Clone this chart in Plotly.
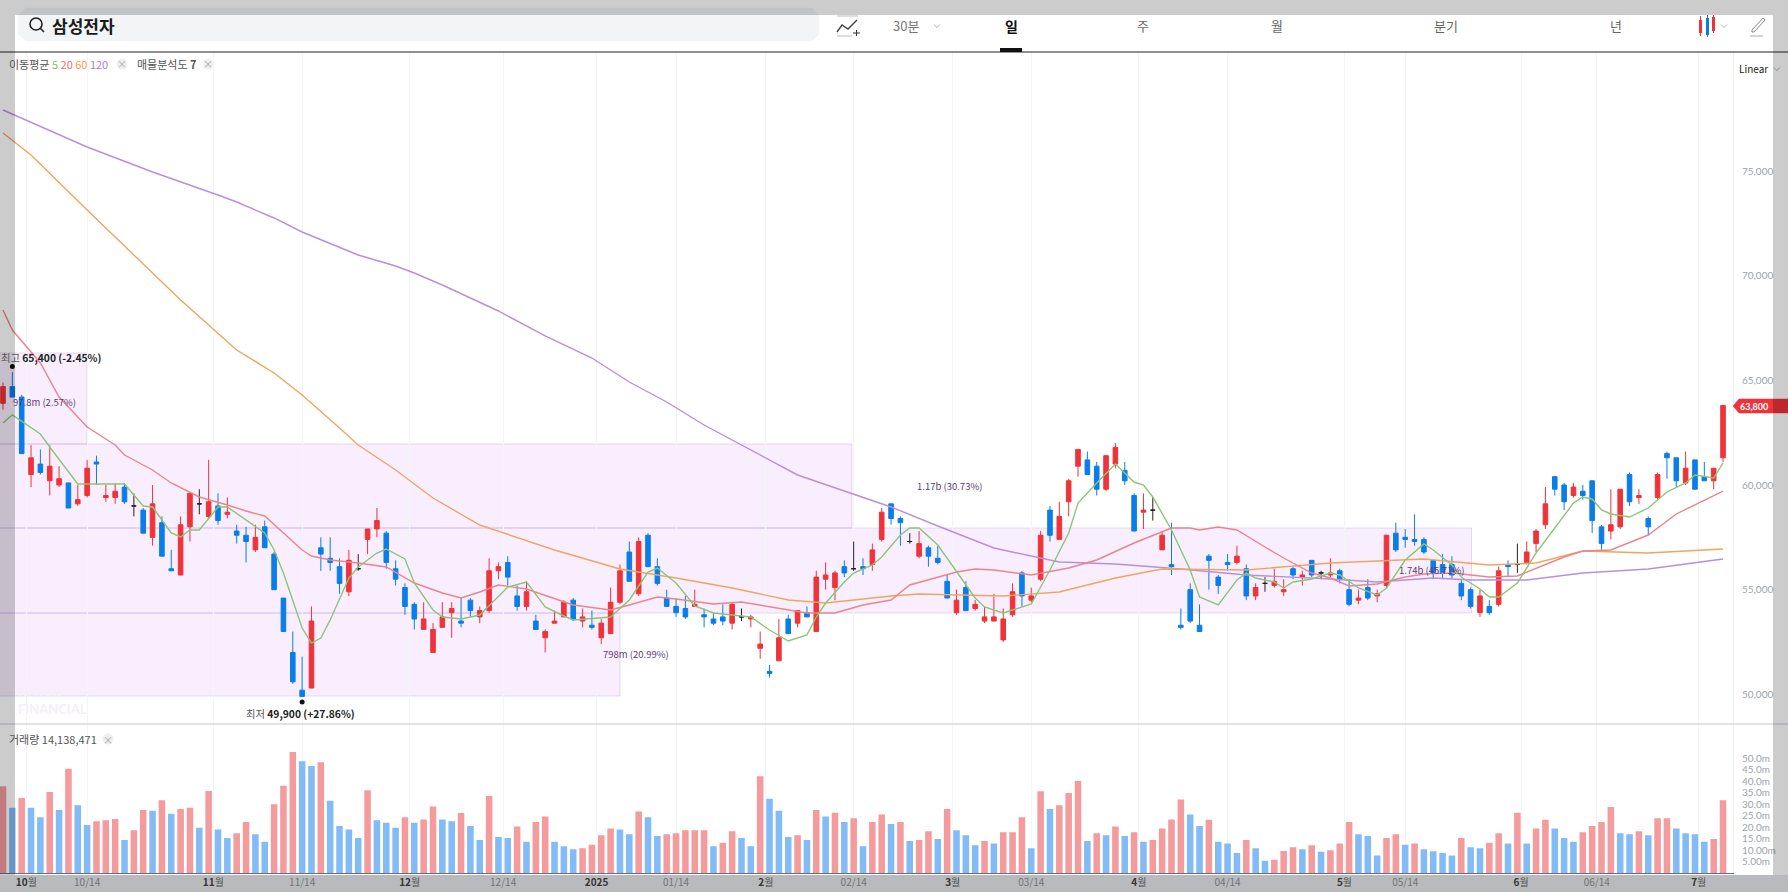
import plotly.graph_objects as go

W, H = 1788, 892

opens = [
    63900,64700,64200,60500,61000,60200,60000,60100,59100,59500,
    61100,59400,59400,59900,59000,58800,57500,58200,56000,55700,
    58000,59100,58500,59000,58600,57800,57600,56900,58000,56700,
    54600,52000,50200,50300,57000,56500,56100,54900,56000,57400,
    57900,57700,56000,55100,54300,53100,52000,53200,53900,53500,
    54500,53700,54000,55900,56300,54700,54200,53500,52700,53400,
    53700,54500,53500,53300,52700,52900,54400,56800,54800,57600,
    56100,54600,54200,54100,54200,53800,53600,53700,53400,53700,
    53600,52200,51100,51600,53600,53400,53900,53000,55500,55100,
    56100,56000,56100,56200,57400,59100,58400,57300,56600,57000,
    56500,55400,53900,55100,54100,53500,53500,52600,53800,55800,
    54500,55500,58800,57400,59200,60900,61200,60900,59800,61000,
    60700,59500,58700,58800,56900,56200,53300,55000,53300,56600,
    55600,56300,56300,56000,54700,55300,55200,54900,56000,55600,
    56400,55800,55700,55900,55000,54500,55100,54700,55200,57700,
    57500,57400,57400,56400,56200,56200,55300,55000,53900,54200,
    54300,56200,56200,56300,57200,58100,60400,60000,59500,59700,
    60200,58000,57800,58000,60500,59400,58400,59400,61500,61300,
    60100,61200,60400,60200,61300]
highs = [
    64900,65400,64300,61900,61700,61900,60900,60100,60000,61200,
    61400,60000,60100,60100,59600,58900,60000,58500,56900,58500,
    59600,59800,61200,59600,59400,58100,58000,58100,58300,56800,
    54600,53000,51800,54200,57500,57500,56500,56900,56700,57900,
    58900,57800,56400,55300,54400,54400,53400,54400,54400,54600,
    54600,54200,56500,56300,56600,55200,55400,53800,53100,54000,
    54500,54600,54100,54000,53600,55100,56200,57300,57500,57700,
    56500,55000,54600,54700,55000,54100,53900,54300,54400,54100,
    53800,53000,51400,53600,53800,54000,54200,55900,56300,55900,
    56400,57300,56500,57200,58900,59100,58500,57700,57800,57100,
    57100,55700,55000,55400,54500,54200,54800,54100,55300,55900,
    55100,57800,59000,59200,60300,61700,61600,61100,61400,62000,
    61100,59600,59600,59400,57800,58200,54100,55300,54300,56700,
    55700,56700,57100,56200,55300,55600,56000,55500,56100,55900,
    56400,55900,56500,56000,55500,55000,55500,55000,57600,58200,
    57900,58600,57500,56400,56700,56600,55500,55100,55000,54500,
    56100,56400,57200,57300,57900,59900,60400,60100,60100,60000,
    60200,58100,59800,59800,60600,59800,58500,60600,61600,61300,
    61600,61200,61100,60800,63800]
lows = [
    63600,64200,61500,59900,60500,59500,59900,58900,59000,59400,
    60000,59200,59100,59100,58500,57700,57100,56600,55900,55700,
    57300,58600,58400,58100,58400,57200,56300,56800,57000,55000,
    53000,50500,49900,50300,55900,55900,54800,54700,55900,56700,
    57500,56000,55200,53800,53100,53100,52000,53200,52700,53200,
    53700,53400,53900,55500,55200,54000,54000,53100,52000,53400,
    53700,53500,53200,53100,52400,52900,54300,55400,54700,56100,
    55200,54200,53700,53600,54200,53200,53300,53300,53100,53500,
    53200,51700,50800,51600,52900,53200,53700,53000,55000,54500,
    55600,55900,55700,55900,57300,58100,57100,57200,56500,56100,
    56200,54600,53800,54000,54000,53400,53500,52500,53700,54200,
    54400,55400,57300,57400,58500,60400,60500,59500,59700,60800,
    60000,57800,57900,58300,56900,55700,53100,53400,53000,55000,
    54800,55900,56200,54500,54500,54900,55100,54700,55500,55200,
    55600,55500,55600,55300,54200,54300,54500,54400,55100,56800,
    57000,57100,56700,55500,55500,55500,54500,54100,53700,53800,
    54200,55600,55800,56200,56800,57900,59500,58800,59400,59300,
    57700,56900,57400,57900,59000,59100,57600,59300,60300,59900,
    60000,59800,60200,59800,61100]
closes = [
    64700,64200,61500,61300,60600,60900,60300,58900,59300,60800,
    61000,59500,59700,59200,59000,57700,59100,56600,55900,58100,
    59600,59100,59200,58300,58700,57600,57300,57500,57000,55000,
    53000,50600,49900,53500,56700,56300,55300,56400,56000,57900,
    58300,56300,55500,54200,53600,53600,53100,53700,54100,53400,
    54000,54000,55900,56100,55600,54200,54900,53100,53000,53500,
    54400,53600,53700,53200,53400,54400,55900,55400,57300,56100,
    55300,54200,53900,53700,54300,53700,53400,53500,54300,53700,
    53700,52400,51000,52700,52900,54000,53700,55600,55700,55800,
    55800,56000,56000,56900,58700,58400,58200,57300,57200,56600,
    56300,54600,54500,54000,54300,53700,53700,53600,54900,54700,
    54700,57600,57600,58500,60200,61700,60500,59800,61400,61800,
    60200,57800,58800,58800,57600,56100,53200,53500,53000,56400,
    55200,56200,56600,54700,55100,55300,55400,55000,55700,55700,
    55700,55800,55800,55500,54300,54600,54600,54800,57600,56900,
    57400,57300,56800,55800,55800,55700,54700,54200,54700,53900,
    55900,56100,56200,56800,57800,59100,59800,59200,59900,59500,
    58300,57200,58100,59800,59200,59500,58000,60500,61300,60200,
    60800,59800,60200,60800,63800]

volumes = [
    37.8,28.4,32.7,28.4,24.3,35.3,27.5,45.4,29.5,21.0,
    22.6,23.0,23.6,14.5,18.7,27.5,27.1,31.7,25.9,27.9,
    28.4,19.8,35.7,19.0,15.3,17.4,22.3,16.9,13.7,30.0,
    38.0,52.7,48.6,46.6,48.2,31.5,20.5,19.0,15.3,36.0,
    23.0,21.9,19.8,24.3,21.9,23.4,29.0,23.4,22.6,26.2,
    20.5,14.5,33.6,15.8,15.3,20.3,13.7,22.3,24.7,13.7,
    11.7,10.4,10.9,12.4,16.5,19.4,19.0,16.9,26.8,24.3,
    16.2,16.9,17.4,18.7,18.7,18.7,11.7,13.3,18.2,15.3,
    11.7,42.1,32.4,27.1,15.8,16.5,14.5,27.5,24.7,26.3,
    22.3,23.9,11.7,22.3,25.5,21.4,22.3,14.0,14.5,18.2,
    14.9,27.9,18.7,16.5,12.2,14.0,12.9,17.8,17.8,24.3,
    10.9,35.6,27.9,29.5,34.9,40.1,14.0,17.4,16.5,20.3,
    16.2,17.8,13.7,14.5,19.4,23.4,32.0,25.5,20.5,23.2,
    13.7,12.9,8.8,14.5,10.9,5.5,5.9,9.7,11.3,10.4,
    12.2,9.3,10.0,12.9,22.3,16.9,16.2,7.7,15.3,16.9,
    12.4,12.9,10.4,9.6,8.8,7.7,15.3,11.3,10.9,13.3,
    17.4,12.9,26.3,12.9,19.4,23.2,19.4,15.3,13.7,17.8,
    20.5,22.3,28.8,17.4,16.9,18.2,16.5,23.9,23.9,19.4,
    17.4,16.9,13.7,14.9,31.7]
vol_up = [
    1,0,1,0,0,1,0,1,0,0,
    1,1,1,0,1,1,0,1,0,1,
    1,0,1,0,0,1,1,0,0,1,
    1,1,0,0,1,0,0,0,0,1,
    0,0,0,1,0,1,1,0,0,1,
    0,0,1,0,0,1,0,1,1,0,
    0,0,1,1,1,1,0,0,1,0,
    0,1,1,1,1,1,0,1,1,0,
    0,1,0,0,0,1,0,1,0,1,
    0,1,0,1,1,0,1,0,1,1,
    0,1,0,0,0,1,0,1,1,1,
    0,1,0,1,1,1,0,1,0,1,
    0,1,0,1,1,1,1,0,0,1,
    0,0,0,1,0,0,1,1,1,0,
    1,0,1,1,1,0,0,0,1,1,
    0,1,0,0,0,0,1,0,0,1,
    1,0,1,0,1,1,0,0,0,1,
    1,1,1,0,0,1,0,1,1,0,
    0,0,0,1,1]

ma5_idx = [0,1,4,5,8,10,12,13,15,16,18,19,20,21,23,24,28,29,30,32,33,34,35,37,38,40,41,43,44,46,47,49,51,54,56,58,60,61,65,67,69,70,72,74,76,78,80,82,84,86,87,88,90,91,93,94,96,97,98,100,102,104,105,107,110,112,114,115,117,119,121,122,123,125,127,128,130,132,133,134,136,137,138,140,142,143,145,147,148,150,152,153,155,156,158,159,160,162,164,166,168,169,170,171,172,174,176,178,180,181,183,184]
ma5 = [62962,63344,62436,61815,60048,60048,60048,60048,58997,58949,57707,57516,57850,57850,58949,58949,57707,56895,55796,53169,52452,52691,53551,55557,56083,56752,56943,56465,55319,54029,53694,53599,53790,55127,55366,54172,53742,53551,53694,54506,55844,56035,55319,54220,53885,53790,53694,53073,52548,52834,53694,54363,55366,55796,56178,56561,57611,57946,57946,57134,55844,54602,54172,53885,54315,55940,57707,59140,60096,61003,60143,60000,59427,57850,55940,54650,54268,55462,55796,55557,55366,55080,55366,55510,55796,55701,55080,54745,55080,56417,57182,56895,56178,55605,55032,54650,54650,55319,56752,57946,59140,59427,59331,58806,58615,58471,58901,59666,60096,60478,60334,61051]

ma20_idx = [0,1,4,6,9,12,13,16,18,21,24,26,28,30,32,33,35,38,41,44,47,49,51,53,56,61,65,67,70,72,76,79,82,86,89,92,95,97,102,104,106,110,114,117,121,125,127,128,130,132,135,137,140,142,144,147,150,152,155,159,162,167,169,172,176,179,184]
ma20 = [68360,67404,65828,64204,62771,61911,61433,60717,60096,59427,59045,58758,58519,57707,56895,56608,56417,56274,56083,55319,54841,54602,54889,55223,55032,54268,54029,54268,54650,54554,54315,54411,54172,53885,53885,54268,54506,55223,55844,55987,55940,55701,56035,56417,57229,57946,57946,57850,57994,57850,57038,56513,55796,55557,55175,55271,55605,55748,55796,55605,55653,56561,56847,56895,57611,58615,59713]

ma60_idx = [0,3,9,19,22,25,29,32,36,38,42,46,51,59,66,72,78,84,88,95,98,107,113,119,124,133,142,152,159,164,169,176,184]
ma60 = [76815,75764,73137,68837,67643,66449,65350,64299,62723,61911,60717,59379,58089,56895,55987,55557,55080,54506,54363,54698,54793,54698,54889,55557,55987,55940,56274,56465,56178,56274,56847,56752,56943]

ma120_idx = [0,9,16,21,23,25,29,32,38,42,44,47,53,58,63,67,71,75,77,85,95,100,106,113,119,126,133,142,147,153,157,163,169,176,184]
ma120 = [77914,76146,74952,74188,73853,73519,72755,72086,70987,70462,70127,69554,68312,67118,66067,64920,63965,62866,62389,60478,58949,58041,56990,56322,56226,55987,55701,55510,55366,55557,55462,55462,55796,55987,56465]

price_ticks = [50000,55000,60000,65000,70000,75000]
vol_ticks = [5,10,15,20,25,30,35,40,45,50]
vol_tick_labels = ["5.00m","10.00m","15.0m","20.0m","25.0m","30.0m","35.0m","40.0m","45.0m","50.0m"]

date_pos = [2.5,9,22.5,32,43.5,53.5,63.5,72,81.6,91,101.6,110,121.5,131,143.5,150,162.4,170.5,181.4]
date_labels = ["10월","10/14","11월","11/14","12월","12/14","2025","01/14","2월","02/14","3월","03/14","4월","04/14","5월","05/14","6월","06/14","7월"]

# price zones of the volume profile: low, high, length in candles, label
zone_low = [49920,53885,57946,61960]
zone_high = [53885,57946,61960,66306]
zone_len = [66,157.1,90.8,9]

RED, BLUE = "#ee3339", "#0a7de8"
FONT = "Noto Sans CJK KR"


def px(x):
    return x / W


def py(y):
    return 1 - y / H


def label(x, y, text, size=11, color="#444", anchor="left", family=FONT):
    if anchor == "left":
        x -= 2
    return dict(xref="paper", yref="paper", x=px(x), y=py(y), text=text, showarrow=False,
                xanchor=anchor, yanchor="middle", align=anchor,
                font=dict(size=size, color=color, family=family))


def box(x0, y0, x1, y1, fill, kind="rect", line=None, layer="above"):
    return dict(type=kind, xref="paper", yref="paper", x0=px(x0), x1=px(x1), y0=py(y0), y1=py(y1),
                fillcolor=fill, line=line or dict(width=0), layer=layer)


def stroke(points, color, width=1.2, close=False, fill=None):
    path = "M" + " L".join(f"{px(a):.5f},{py(b):.5f}" for a, b in points) + (" Z" if close else "")
    return dict(type="path", xref="paper", yref="paper", path=path, layer="above",
                fillcolor=fill if fill else "rgba(0,0,0,0)",
                line=dict(color=color, width=width))


def chevron(cx, cy, color="#aaa"):
    return stroke([(cx - 3, cy - 1.5), (cx, cy + 1.5), (cx + 3, cy - 1.5)], color, 0.9)


idx = list(range(len(closes)))
solid = [i for i in idx if opens[i] != closes[i]]
doji = [i for i in idx if opens[i] == closes[i]]

fig = go.Figure()

fig.add_trace(go.Candlestick(
    x=solid, open=[opens[i] for i in solid], high=[highs[i] for i in solid],
    low=[lows[i] for i in solid], close=[closes[i] for i in solid],
    increasing=dict(line=dict(color=RED, width=1), fillcolor=RED),
    decreasing=dict(line=dict(color=BLUE, width=1), fillcolor=BLUE),
    xaxis="x", yaxis="y", showlegend=False))
fig.add_trace(go.Candlestick(
    x=doji, open=[opens[i] for i in doji], high=[highs[i] for i in doji],
    low=[lows[i] for i in doji], close=[closes[i] for i in doji],
    increasing=dict(line=dict(color="#222", width=1), fillcolor="#222"),
    decreasing=dict(line=dict(color="#222", width=1), fillcolor="#222"),
    xaxis="x", yaxis="y", showlegend=False))

for xs, ys, col in [(ma120_idx, ma120, "#b88fdd"), (ma60_idx, ma60, "#f0a55f"),
                    (ma20_idx, ma20, "#ea858b"), (ma5_idx, ma5, "#8cc576")]:
    fig.add_trace(go.Scatter(x=xs, y=ys, mode="lines", line=dict(color=col, width=1.4),
                             xaxis="x", yaxis="y", showlegend=False, hoverinfo="skip"))

fig.add_trace(go.Bar(x=idx, y=volumes, xaxis="x2", yaxis="y2", showlegend=False,
                     marker=dict(color=["#f49b9d" if u else "#82bbf6" for u in vol_up], line=dict(width=0))))

shapes = []
for lo, hi, n in zip(zone_low, zone_high, zone_len):
    shapes.append(dict(type="rect", xref="x", yref="y", x0=-1, x1=n, y0=lo, y1=hi, layer="below",
                       fillcolor="rgba(226,170,248,0.2)", line=dict(color="rgba(190,150,225,0.35)", width=1)))

# dots over the high and low
shapes.append(dict(type="circle", xref="x", yref="y", xsizemode="pixel", ysizemode="pixel",
                   xanchor=1, yanchor=max(highs), x0=-2.5, x1=2.5, y0=3, y1=8,
                   fillcolor="#111", line=dict(width=0)))
shapes.append(dict(type="circle", xref="x", yref="y", xsizemode="pixel", ysizemode="pixel",
                   xanchor=32, yanchor=min(lows), x0=-2.5, x1=2.5, y0=-8, y1=-3,
                   fillcolor="#111", line=dict(width=0)))

# panel frame
shapes.append(stroke([(0, 724), (W, 724)], "#d9d9e3", 1.5))
shapes.append(stroke([(0, 52), (W, 52)], "#6a6a6a", 1.6))
shapes.append(box(0, 875, W, H, "#e6e9ed", layer="below"))

# toolbar
shapes.append(stroke([(26, 8), (812, 8), (819, 15), (819, 34), (812, 41), (26, 41), (18, 34), (18, 15)],
                     "#f2f4f6", 0.5, True, "#f2f4f6"))
shapes.append(box(30, 18, 42, 30, "rgba(0,0,0,0)", "circle", dict(color="#222", width=1.6)))
shapes.append(stroke([(40, 28), (44, 32)], "#222", 1.6))
shapes.append(box(1000, 48, 1022, 52, "#111"))
shapes.append(stroke([(837, 32), (842, 25), (848, 29), (857, 20)], "#444", 1.4))
shapes.append(stroke([(837, 16), (858, 16)], "#bbb", 1))
shapes.append(stroke([(837, 36), (852, 36)], "#bbb", 1))
shapes.append(stroke([(853, 33), (860, 33)], "#333", 1))
shapes.append(stroke([(856.5, 30), (856.5, 36)], "#333", 1))
for a, b, c, d in [(1699, 20, 1702, 33), (1706, 18, 1709, 35), (1712, 17, 1715, 31)]:
    shapes.append(box(a, b, c, d, RED if a != 1706 else BLUE))
shapes.append(stroke([(1700.5, 16), (1700.5, 36)], RED, 1))
shapes.append(stroke([(1707.5, 15), (1707.5, 37)], BLUE, 1))
shapes.append(stroke([(1713.5, 15), (1713.5, 33)], RED, 1))
shapes.append(stroke([(1752, 30), (1763, 18), (1765, 20), (1754, 32), (1752, 32)], "#888", 1, True))
shapes.append(stroke([(1750, 36), (1763, 36)], "#aaa", 1))
shapes += [chevron(937, 26), chevron(1724, 26), chevron(1777, 69)]

# chips behind the small x marks
for cx, cy in [(122, 64), (208, 64), (108, 739)]:
    shapes.append(box(cx - 5.5, cy - 5.5, cx + 5.5, cy + 5.5, "#efefef", "circle"))

# current price tag
shapes.append(stroke([(1733, 406), (1739, 399), (W, 399), (W, 413), (1739, 413)], RED, 0.5, True, RED))

# dimmed frame of the capture
dim = "rgba(0,0,0,0.2)"
shapes += [box(0, 0, W, 15, dim), box(0, 875, W, H, dim), box(0, 15, 15, 875, dim), box(1773, 15, W, 875, dim)]

TXT = "#5a3d78"
annotations = [
    label(52, 25, "<b>삼성전자</b>", 17, "#1a1a1a"),
    label(906, 26, "30분", 13, "#777", "center"),
    label(1011, 26, "<b>일</b>", 14, "#111", "center"),
    label(1143, 26, "주", 13, "#666", "center"),
    label(1277, 26, "월", 13, "#666", "center"),
    label(1446, 26, "분기", 13, "#666", "center"),
    label(1616, 26, "년", 13, "#666", "center"),
    label(1753, 68, "Linear", 10, "#222", "center"),
    label(9, 64, "이동평균 <span style='color:#7cc060'>5</span> <span style='color:#ee6a70'>20</span> "
                 "<span style='color:#f0a050'>60</span> <span style='color:#a780d8'>120</span>", 11, "#555"),
    label(122, 64, "×", 10, "#aaa", "center"),
    label(137, 64, "매물분석도 <b>7</b>", 11, "#555"),
    label(208, 64, "×", 10, "#aaa", "center"),
    label(9, 739, "거래량 14,138,471", 11, "#555"),
    label(108, 739, "×", 10, "#aaa", "center"),
    label(1, 358, "최고 <b style='color:#222'>65,400 (-2.45%)</b>", 10.3, "#555"),
    label(246, 713, "최저 <b style='color:#222'>49,900 (+27.86%)</b>", 10.3, "#555"),
    label(13, 402, "97.8m (2.57%)", 9.5, TXT),
    label(917, 486, "1.17b (30.73%)", 9.5, TXT),
    label(603, 654, "798m (20.99%)", 9.5, TXT),
    label(1399, 570, "1.74b (45.71%)", 9.5, TXT),
    label(18, 700, "<b>NAVER<br>FINANCIAL</b>", 13, "#f5f0f8", family="Lato"),
    label(1740, 406, "<b>63,800</b>", 9, "#fff", family="Lato"),
]

x_range = [-3 / 9.348, 1730 / 9.348]
price_per_px = 47.77
y_top = 60000 + (485 - 52) * price_per_px
y_bottom = 60000 - (724 - 485) * price_per_px
tick_font = dict(size=10, color="#9da3a9", family="Lato")
month_text = []
for t in date_labels:
    if t.endswith("월"):
        month_text.append(f"<b style='color:#444'>{t[:-1]}</b><span style='color:#666'>월</span>")
    elif t == "2025":
        month_text.append("<b style='color:#444'>2025</b>")
    else:
        month_text.append(t)

fig.update_layout(
    width=W, height=H, autosize=False,
    margin=dict(l=0, r=0, t=0, b=0),
    paper_bgcolor="white", plot_bgcolor="white",
    boxgap=0.3, bargap=0.3, hovermode=False,
    font=dict(family=FONT),
    shapes=shapes, annotations=annotations,
    xaxis=dict(domain=[0, 1733 / W], range=x_range, anchor="y", tickmode="array", tickvals=date_pos,
               showticklabels=False, showgrid=True, gridcolor="#f4f5f7", gridwidth=1,
               zeroline=False, ticks="", rangeslider=dict(visible=False)),
    yaxis=dict(domain=[py(724), py(52)], range=[y_bottom, y_top], anchor="x", side="right",
               tickmode="array", tickvals=price_ticks, tickformat=",", tickfont=tick_font,
               showgrid=False, zeroline=False, ticks="", ticklabelstandoff=6,
               showline=True, linecolor="#eef0f2", linewidth=1),
    xaxis2=dict(domain=[0, 1733 / W], range=x_range, anchor="y2", tickmode="array", tickvals=date_pos,
                ticktext=month_text, tickangle=0, tickfont=dict(size=10, color="#8d9297", family=FONT),
                showgrid=True, gridcolor="#f4f5f7", gridwidth=1, zeroline=False, ticks="",
                showline=True, linecolor="#6b6b80", linewidth=1),
    yaxis2=dict(domain=[py(873.3), py(724)], range=[0, (873.3 - 724) / 2.304], anchor="x2", side="right",
                tickmode="array", tickvals=vol_ticks, ticktext=vol_tick_labels, tickfont=tick_font,
                showgrid=False, zeroline=False, ticks="", ticklabelstandoff=6,
                showline=True, linecolor="#eef0f2", linewidth=1),
)

fig.write_html("out.html", config=dict(displayModeBar=False),
               post_script="document.body.style.margin='0';document.body.style.overflow='hidden';")
